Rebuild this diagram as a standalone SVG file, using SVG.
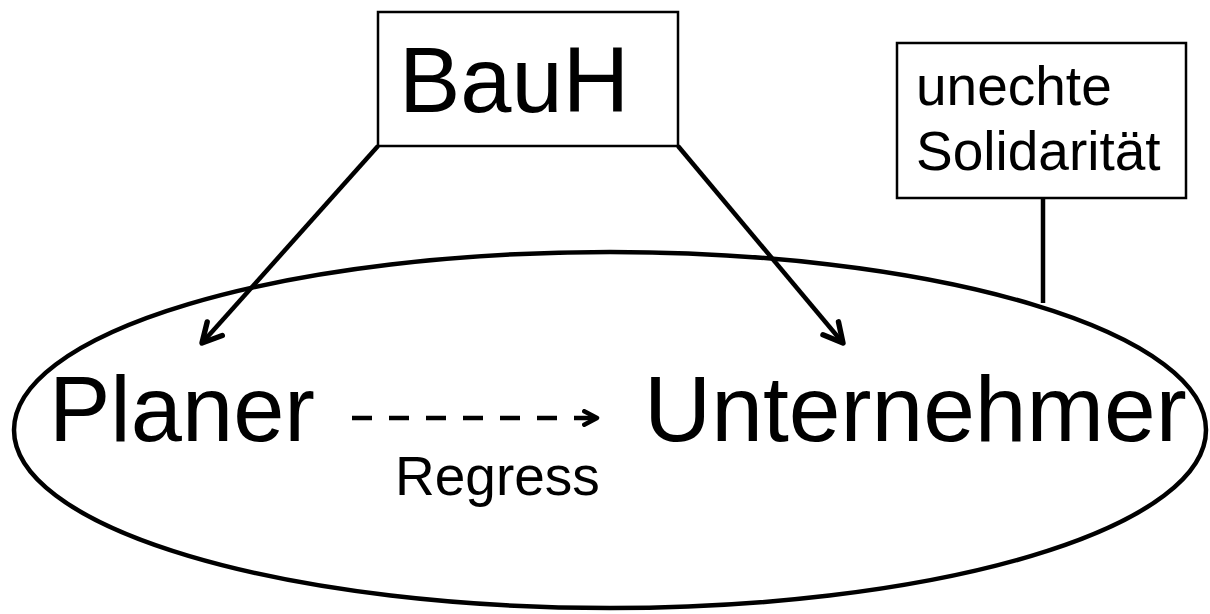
<svg xmlns="http://www.w3.org/2000/svg" width="1210" height="614" viewBox="0 0 1210 614">
<style>
.t{font-family:"Liberation Sans",Arial,sans-serif;fill:#000}
.box{fill:#fff;stroke:#000;stroke-width:2.5}
.ln{fill:none;stroke:#000;stroke-width:4.5}
</style>
<defs>
<marker id="ah" viewBox="0 0 12 12" refX="10" refY="6" markerWidth="6" markerHeight="6" markerUnits="strokeWidth" orient="auto">
<path d="M1.5,1.5 L10,6 L1.5,10.5" fill="none" stroke="#000" stroke-width="2.4" stroke-linecap="round" stroke-linejoin="round"/>
</marker>
<marker id="ahs" viewBox="0 0 12 12" refX="10" refY="6" markerWidth="4" markerHeight="4" markerUnits="strokeWidth" orient="auto">
<path d="M1.5,1.5 L10,6 L1.5,10.5" fill="none" stroke="#000" stroke-width="3" stroke-linecap="round" stroke-linejoin="round"/>
</marker>
</defs>
<g id="group-ellipse">
<ellipse cx="610" cy="430" rx="596" ry="178" class="ln"/>
</g>
<g id="connectors">
<line x1="378" y1="146" x2="202" y2="343" class="ln" marker-end="url(#ah)"/>
<line x1="678" y1="146" x2="843" y2="343" class="ln" marker-end="url(#ah)"/>
<line x1="352" y1="418" x2="597" y2="418" class="ln" stroke-width="5" stroke-dasharray="20 17" marker-end="url(#ahs)"/>
<line x1="1043" y1="198" x2="1043" y2="303" class="ln"/>
</g>
<g id="bauh">
<rect x="378" y="12" width="300" height="134" class="box"/>
<text x="399" y="112" class="t" font-size="92">BauH</text>
</g>
<g id="solidaritaet">
<rect x="897" y="43" width="289" height="155" class="box"/>
<text class="t" font-size="55"><tspan x="916" y="105">unechte</tspan><tspan x="916" y="170">Solidarität</tspan></text>
</g>
<g id="planer">
<text x="49" y="441" class="t" font-size="92">Planer</text>
</g>
<g id="unternehmer">
<text x="644" y="441" class="t" font-size="93">Unternehmer</text>
</g>
<g id="regress-label">
<text x="395" y="495" class="t" font-size="55">Regress</text>
</g>
</svg>
